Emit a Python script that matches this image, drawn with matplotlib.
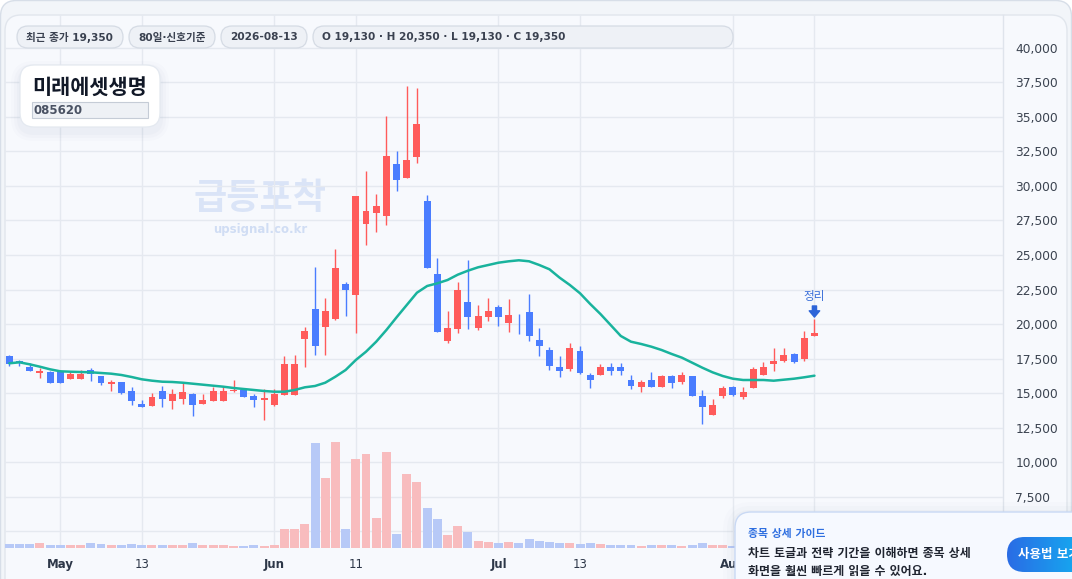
import matplotlib
matplotlib.use("Agg")
import matplotlib.pyplot as plt
from matplotlib.patches import FancyBboxPatch, Rectangle
from matplotlib.ticker import FuncFormatter
from matplotlib.transforms import Affine2D
from matplotlib.colors import LinearSegmentedColormap
import numpy as np
import pandas as pd

# ---------------- data ----------------
stock_name = "미래에셋생명"
stock_code = "085620"
start_date = "2026-04-24"

opens = [17700, 17340, 16900, 16470, 16550, 16550, 16040, 16040, 16650, 16230,
         15630, 15800, 15150, 14200, 14080, 15120, 14440, 14590, 14930, 14220,
         14440, 14440, 15150, 15220, 14780, 14520, 14130, 14880, 14880, 18910,
         21090, 19780, 20360, 22900, 22100, 27250, 28070, 27830, 31590, 30580,
         32100, 28910, 23620, 18790, 19660, 21600, 19730, 20510, 21230, 20070,
         20470, 20870, 18840, 18120, 16890, 16740, 18040, 16310, 16310, 16890,
         16890, 15940, 15440, 15940, 15440, 16230, 15800, 16230, 14780, 13410,
         14780, 15440, 14710, 15360, 16310, 17120, 17320, 17830, 17460, 19130]
highs = [17750, 17420, 17150, 16790, 16620, 16700, 16620, 16700, 16810, 16230,
         15970, 15800, 15410, 14490, 14980, 15510, 15290, 15700, 14980, 14930,
         15460, 15510, 15910, 15270, 14910, 15270, 15290, 17700, 17760, 19800,
         24130, 21890, 25440, 23040, 29280, 31110, 29420, 35090, 32540, 37270,
         37120, 29350, 24780, 20940, 23040, 24640, 21380, 21890, 21380, 21810,
         20730, 22170, 19710, 18330, 17680, 18620, 18410, 16450, 17100, 17170,
         17170, 16310, 15940, 16520, 16310, 16310, 16520, 16230, 15220, 14570,
         15510, 15510, 15440, 16890, 17250, 18260, 18260, 17900, 19490, 20350]
lows = [16980, 16980, 16620, 16070, 15750, 15750, 16040, 16040, 15890, 15560,
        15170, 14950, 14150, 14010, 14080, 14010, 13840, 14230, 13360, 14220,
        14440, 14440, 15050, 14740, 14010, 13045, 14080, 14880, 14850, 16910,
        17750, 17750, 20290, 20600, 19370, 25750, 26690, 27170, 29640, 30580,
        31690, 24060, 19440, 18650, 19370, 19660, 19590, 20220, 19860, 19420,
        19280, 18790, 17680, 16670, 16160, 16600, 16380, 15360, 16310, 16310,
        16310, 15290, 15070, 15440, 15440, 15360, 15650, 14780, 12760, 13410,
        14640, 14780, 14570, 15360, 16310, 16600, 17250, 17180, 17320, 19130]
closes = [17080, 17150, 16620, 16620, 15750, 15750, 16380, 16380, 16360, 15700,
          15780, 15030, 14440, 14010, 14690, 14590, 14930, 15070, 14150, 14490,
          15150, 15150, 15200, 14740, 14520, 14640, 14930, 17100, 17130, 19490,
          18430, 20940, 24060, 22470, 29280, 28190, 28550, 32170, 30430, 31880,
          34520, 24060, 19440, 19710, 22460, 20530, 20580, 20940, 20510, 20650,
          20420, 19130, 18410, 16960, 16600, 18260, 16450, 15940, 16890, 16600,
          16600, 15510, 15800, 15440, 16230, 15720, 16310, 14780, 13990, 14130,
          15360, 14860, 15070, 16740, 16890, 17320, 17755, 17250, 18990, 19350]
ma_values = [17153, 17225, 17080, 16907, 16718, 16573, 16544, 16523, 16501, 16451,
             16400, 16306, 16161, 15994, 15893, 15820, 15798, 15747, 15675, 15603,
             15530, 15458, 15364, 15291, 15219, 15146, 15095, 15095, 15219, 15414,
             15509, 15747, 16182, 16668, 17392, 17994, 18718, 19566, 20486, 21378,
             22269, 22755, 22950, 23189, 23573, 23863, 24110, 24276, 24443, 24544,
             24617, 24544, 24276, 23965, 23356, 22827, 22226, 21450, 20726, 19929,
             19132, 18718, 18552, 18356, 18117, 17827, 17559, 17197, 16834, 16501,
             16233, 16037, 15943, 15943, 15943, 15892, 15965, 16037, 16139, 16255]
volumes = [48000, 48000, 48000, 60000, 36000, 36000, 36000, 36000, 60000, 48000,
           36000, 36000, 48000, 36000, 36000, 36000, 36000, 36000, 60000, 36000,
           36000, 36000, 24000, 24000, 36000, 24000, 36000, 228000, 228000, 288000,
           1260000, 840000, 1272000, 228000, 1068000, 1128000, 360000, 1152000, 168000, 888000,
           792000, 480000, 348000, 156000, 264000, 192000, 84000, 72000, 60000, 72000,
           60000, 108000, 84000, 72000, 60000, 60000, 48000, 60000, 48000, 36000,
           36000, 36000, 24000, 36000, 36000, 36000, 24000, 36000, 60000, 36000,
           36000, 24000, 36000, 72000, 60000, 48000, 48000, 36000, 84000, 72000]

tick_dates = ["2026-05-01", "2026-05-13", "2026-06-01", "2026-06-11",
              "2026-07-01", "2026-07-13", "2026-08-03", "2026-08-13"]
tick_labels = ["May", "13", "Jun", "11", "Jul", "13", "Aug", "13"]
bold_labels = {"May", "Jun", "Jul", "Aug"}
price_ticks = list(range(5000, 40001, 2500))
price_range = (3770, 42390)

header_pills = ["최근 종가 19,350", "80일·신호기준", "2026-08-13",
                "O 19,130 · H 20,350 · L 19,130 · C 19,350"]
signal_text = "정리"
watermark = "급등포착"
watermark_url = "upsignal.co.kr"
guide_title = "종목 상세 가이드"
guide_lines = ["차트 토글과 전략 기간을 이해하면 종목 상세", "화면을 훨씬 빠르게 읽을 수 있어요."]
guide_button = "사용법 보기"

# ---------------- style ----------------
UP = "#ff5b5b"
DOWN = "#4a7dff"
UP_VOL = "#f8bcbe"
DOWN_VOL = "#b7c9f7"
MA_COLOR = "#19b39d"
GRID = "#e5e9f0"
CJK = ["Noto Sans CJK KR", "DejaVu Sans"]
MIX = ["DejaVu Sans", "Noto Sans CJK KR"]

W, H, DPI = 1072, 579, 100
fig = plt.figure(figsize=(W / DPI, H / DPI), dpi=DPI, facecolor="white")
PX = Affine2D().scale(1 / DPI, -1 / DPI).translate(0, H / DPI) + fig.dpi_scale_trans


def rbox(x, y, w, h, r, fc, ec="none", lw=1.0, z=1, alpha=1.0):
    p = FancyBboxPatch((x, y), w, h, boxstyle=f"round,pad=0,rounding_size={r}",
                       fc=fc, ec=ec, lw=lw, transform=PX, zorder=z, alpha=alpha)
    fig.patches.append(p)
    return p


# backgrounds
rbox(0.5, 0.5, W - 1, H + 40, 16, "#f2f5f9", "#d7dee8", 1.0, z=-10)
rbox(5, 15, 1062, H + 40, 16, "#f7f9fd", "#e1e6ed", 1.0, z=-9)
fig.lines.append(plt.Line2D([1003, 1003], [15, H], transform=PX, color="#dfe4ec", lw=1.0, zorder=-8))

# ---------------- axes ----------------
ax_l, ax_r, ax_t, ax_b = 5, 1003, 15, 548
ax = fig.add_axes([ax_l / W, (H - ax_b) / H, (ax_r - ax_l) / W, (ax_b - ax_t) / H])
ax.patch.set_visible(False)
ax_vol = ax.twinx()
ax_vol.patch.set_visible(False)

dates = pd.bdate_range(start_date, periods=len(opens))
x = np.arange(len(dates))
o = np.array(opens); hi = np.array(highs); lo = np.array(lows); c = np.array(closes)
up = c >= o
colors = np.where(up, UP, DOWN)
vol_colors = np.where(up, UP_VOL, DOWN_VOL)

# volume
ax_vol.bar(x, volumes, width=0.88, color=vol_colors, zorder=1)
ax_vol.set_ylim(0, max(volumes) * 5.03)
ax_vol.set_yticks([])
for s in ax_vol.spines.values():
    s.set_visible(False)

# candles
ax.vlines(x, lo, hi, colors=colors, lw=1.0, zorder=2)
body = np.maximum(np.abs(c - o), 45)
ax.bar(x, body, bottom=np.minimum(o, c), width=0.68, color=colors, zorder=3)
ax.plot(x, ma_values, color=MA_COLOR, lw=1.8, zorder=4, solid_capstyle="round")

# signal annotation on the last candle
last = len(x) - 1
ax.annotate("", xy=(x[last], hi[last]), xytext=(0, 9.5), textcoords="offset points",
            arrowprops=dict(arrowstyle="simple,head_length=0.45,head_width=0.75,tail_width=0.3",
                            color="#2d64d8", shrinkA=0, shrinkB=1.5), zorder=6)
ax.annotate(signal_text, xy=(x[last], hi[last]), xytext=(0, 16), textcoords="offset points",
            ha="center", va="center", fontsize=8.4, color="#3b6fd9", family=CJK, zorder=6)

# axes formatting
ax.set_xlim(-0.42, 97.5)
ax.set_ylim(*price_range)
ax.yaxis.tick_right()
ax.set_yticks(price_ticks)
ax.yaxis.set_major_formatter(FuncFormatter(lambda v, p: f"{v:,.0f}"))
ax.tick_params(axis="y", length=0, pad=9, labelsize=8.8, labelcolor="#3b4350")
tick_pos = [dates.get_loc(pd.Timestamp(d)) for d in tick_dates]
ax.set_xticks(tick_pos)
ax.set_xticklabels(tick_labels)
for t in ax.get_xticklabels():
    if t.get_text() in bold_labels:
        t.set_fontweight("bold")
ax.tick_params(axis="x", length=0, pad=7, labelsize=8.5, labelcolor="#2d3748")
ax.grid(True, color=GRID, lw=1.0, zorder=0)
ax.set_axisbelow(True)
for s in ax.spines.values():
    s.set_visible(False)

# watermark
fig.text(260, 199, watermark, transform=PX, ha="center", va="center", fontsize=26,
         fontweight="bold", color="#dae4f7", family=CJK, zorder=-7)
fig.text(260, 229, watermark_url, transform=PX, ha="center", va="center", fontsize=8.5,
         fontweight="bold", color="#d0ddf4", family=MIX, zorder=-7)

# ---------------- header pills ----------------
pill_x = [17, 129, 221, 313]
pill_w = [106, 86, 86, 420]
for px0, pw, txt in zip(pill_x, pill_w, header_pills):
    rbox(px0, 26, pw, 22, 11, "#eef1f6", "#d5dbe4", 0.9, z=5)
    fig.text(px0 + 9, 37.5, txt, transform=PX, ha="left", va="center", fontsize=7.6,
             fontweight="bold", color="#3a4150", family=MIX, zorder=6)

# ---------------- title card ----------------
for i, a in enumerate([0.035, 0.03, 0.025]):
    g = 3 + i * 3
    rbox(20 - g, 67 - g + 3, 140 + 2 * g, 62 + 2 * g, 14 + g, "#8090b0", z=4, alpha=a)
rbox(20, 65, 140, 62, 14, "#ffffff", "#e4e9f0", 0.9, z=5)
fig.text(32, 87, stock_name, transform=PX, ha="left", va="center", fontsize=15,
         fontweight="bold", color="#111827", family=CJK, zorder=6)
fig.patches.append(Rectangle((32, 102), 116, 16, transform=PX, fc="#eef1f5", ec="#c5ccd6",
                             lw=0.8, zorder=5))
fig.text(34, 110.5, stock_code, transform=PX, ha="left", va="center", fontsize=8.5,
         fontweight="bold", color="#4a5263", family=MIX, zorder=6)

# ---------------- guide popup ----------------
for i, a in enumerate([0.04, 0.03, 0.02]):
    g = 4 + i * 4
    rbox(735 - g, 512 - g + 2, 400 + 2 * g, 120 + 2 * g, 16 + g, "#7f8fb0", z=9, alpha=a)
rbox(735, 512, 400, 120, 16, "#f6f9ff", "#c9d9f4", 1.0, z=10)
fig.text(748, 534.5, guide_title, transform=PX, ha="left", va="center", fontsize=7.8,
         fontweight="bold", color="#2f6fe0", family=MIX, zorder=11)
fig.text(748, 553, guide_lines[0], transform=PX, ha="left", va="center", fontsize=8.6,
         fontweight="bold", color="#1f2430", family=MIX, zorder=11)
fig.text(748, 572, guide_lines[1], transform=PX, ha="left", va="center", fontsize=8.6,
         fontweight="bold", color="#1f2430", family=MIX, zorder=11)

# gradient pill button
btn = rbox(1007, 537, 120, 35, 17.5, "none", z=11)
bax = fig.add_axes([1007 / W, (H - 572) / H, 120 / W, 35 / H], zorder=11)
bax.axis("off")
grad = np.linspace(0, 1, 256).reshape(1, -1)
cmap = LinearSegmentedColormap.from_list("btn", ["#2a6ce5", "#17a4ef"])
im = bax.imshow(grad, extent=[0, 1, 0, 1], aspect="auto", cmap=cmap, vmin=0, vmax=0.55)
im.set_clip_path(btn)
fig.text(1018, 554.5, guide_button, transform=PX, ha="left", va="center", fontsize=9,
         fontweight="bold", color="white", family=MIX, zorder=12)

fig.savefig("out.png", dpi=DPI, facecolor=fig.get_facecolor())
